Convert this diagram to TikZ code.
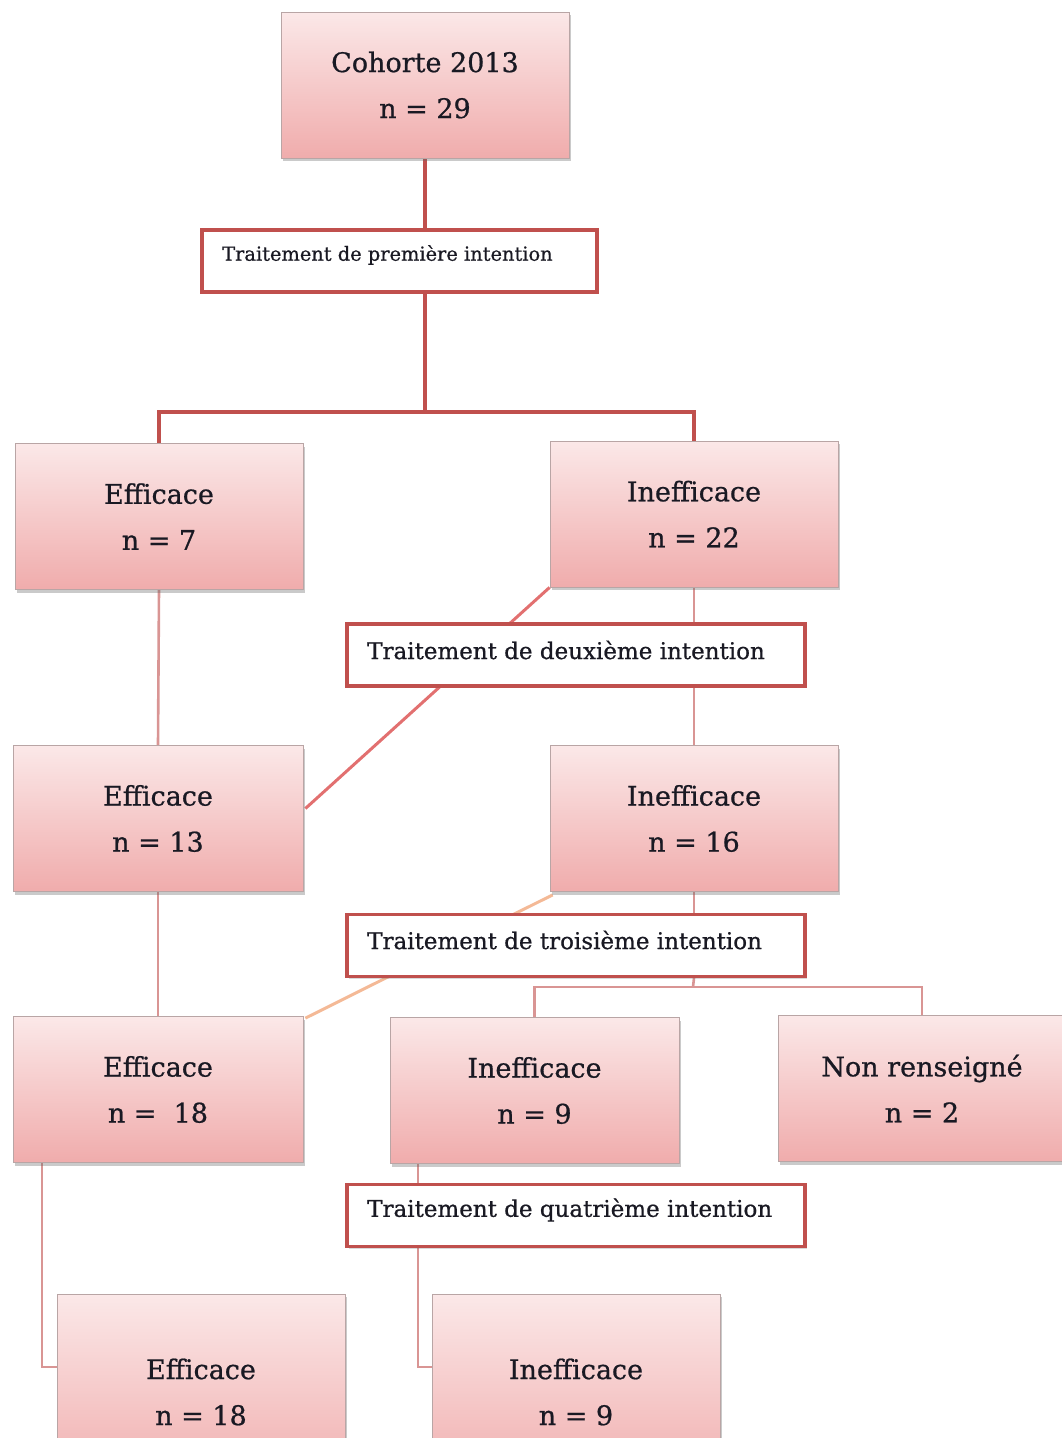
\documentclass[tikz,border=0pt]{standalone}
\usepackage{fontspec}
\setmainfont{DejaVu Serif}[FakeBold=0.7]
\usetikzlibrary{shadows,calc}
\pgfdeclarelayer{bg}
\pgfsetlayers{bg,main}
\definecolor{pinkTop}{RGB}{251,232,232}
\definecolor{pinkBot}{RGB}{240,172,172}
\definecolor{boxedge}{RGB}{185,165,165}
\definecolor{redline}{RGB}{192,80,77}
\definecolor{pinkline}{RGB}{217,149,148}
\definecolor{salmon}{RGB}{226,112,112}
\definecolor{peach}{RGB}{244,185,150}
\definecolor{txt}{RGB}{25,25,35}
\tikzset{
  box/.style={draw=boxedge, line width=0.8, top color=pinkTop, bottom color=pinkBot,
    minimum width=288, minimum height=146, align=center, inner sep=0, text=txt,
    font=\fontsize{27}{46}\selectfont,
    drop shadow={shadow xshift=2pt, shadow yshift=-3pt, opacity=0.35, fill=black!60}},
  labbox/.style={draw=redline, line width=3.2, fill=white, minimum width=458, minimum height=62, inner sep=0,
    drop shadow={shadow xshift=1.5pt, shadow yshift=-2pt, opacity=0.25, fill=black!60}},
  labtxt/.style={anchor=west, inner sep=0, text=txt, font=\fontsize{23}{28}\selectfont},
  cA/.style={draw=redline, line width=3.6},
  cB/.style={draw=pinkline, line width=2.6},
  cC/.style={draw=salmon, line width=3},
  cD/.style={draw=peach, line width=3},
}
\begin{document}
\begin{tikzpicture}[x=1pt,y=-1pt]
\useasboundingbox (0,0) rectangle (1061,1438);
\coordinate (j1) at (425,412);
\coordinate (j3) at (693,987);
\coordinate (k1) at (42,1367);
\coordinate (k2) at (418,1367);

\node[box] (coh) at (425,85) {Cohorte 2013\\n = 29};
\node[labbox, minimum width=395] (l1) at (399.5,261) {};
\node[labtxt, font=\fontsize{19.4}{24}\selectfont] (t1) at (222,255) {Traitement de première intention};
\node[box] (eff7) at (159,516.5) {Efficace\\n = 7};
\node[box] (ineff22) at (694,514) {Inefficace\\n = 22};
\node[labbox] (l2) at (576,655) {};
\node[labtxt] (t2) at (367,650) {Traitement de deuxième intention};
\node[box, minimum width=290] (eff13) at (158,818.5) {Efficace\\n = 13};
\node[box] (ineff16) at (694,818.5) {Inefficace\\n = 16};
\node[labbox] (l3) at (576,945.5) {};
\node[labtxt] (t3) at (367,940) {Traitement de troisième intention};
\node[box, minimum width=290] (eff18) at (158,1089.5) {Efficace\\n =\ \ 18};
\node[box, minimum width=289] (ineff9) at (534.5,1090.5) {Inefficace\\n = 9};
\node[box] (nr) at (922,1088.5) {Non renseigné\\n = 2};
\node[labbox] (l4) at (576,1215.5) {};
\node[labtxt] (t4) at (367,1210) {Traitement de quatrième intention};
\node[box, minimum height=196] (effB) at (201,1392) {Efficace\\n = 18};
\node[box, minimum height=196] (ineffB) at (576,1392) {Inefficace\\n = 9};

\begin{pgfonlayer}{bg}
\draw[cA] (coh.south) -- (coh.south |- l1.north);
\draw[cA] (coh.south |- l1.south) -- (j1);
\draw[cA] (j1) -| (eff7.north);
\draw[cA] (j1) -| (ineff22.north);
\draw[cB] (eff7.south) -- (eff13.north);
\draw[cB] (ineff22.south) -- (ineff22.south |- l2.north);
\draw[cB] (ineff22.south |- l2.south) -- (ineff16.north);
\draw[cC] (ineff22.south west) -- ($(eff13.east)+(2,-10)$);
\draw[cB] (eff13.south) -- (eff18.north);
\draw[cB] (ineff16.south) -- (ineff16.south |- l3.north);
\draw[cB] (ineff16.south |- l3.south) -- (j3);
\draw[cB] (j3) -| (ineff9.north);
\draw[cB] (j3) -| (nr.north);
\draw[cD] ($(ineff16.south west)+(3,3)$) -- ($(eff18.north east)+(2,2)$);
\draw[cB] (eff18.south -| k1) -- (k1) -- (k1 -| effB.west);
\draw[cB] (ineff9.south -| k2) -- (k2) -- (k2 -| ineffB.west);
\end{pgfonlayer}
\end{tikzpicture}
\end{document}
